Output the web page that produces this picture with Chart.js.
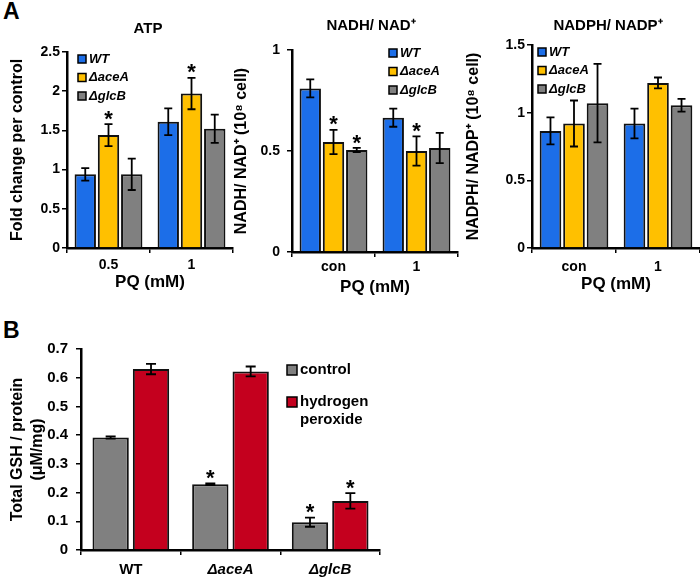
<!DOCTYPE html>
<html lang="en">
<head>
  <meta charset="UTF-8" />
  <title>ATP, NADH/NAD+, NADPH/NADP+ and total GSH</title>
  <script src="https://cdn.jsdelivr.net/npm/chart.js"></script>
  <style>
    body { margin: 0; background: #fff; }
    #fig { position: relative; width: 700px; height: 580px; overflow: hidden; font-family: 'Liberation Sans', Arial, sans-serif; }
    #fig canvas { position: absolute; }
    .panel { position: absolute; font-weight: bold; font-size: 23px; line-height: 1; }
  </style>
</head>
<body>
<div id="fig">
  <div class="panel" style="left:3px; top:0px;">A</div>
  <div class="panel" style="left:3px; top:319px;">B</div>
  <canvas id="atp" width="240" height="300" style="left:0; top:0;"></canvas>
  <canvas id="nadh" width="240" height="300" style="left:228px; top:0;"></canvas>
  <canvas id="nadph" width="238" height="300" style="left:462px; top:0;"></canvas>
  <canvas id="gsh" width="420" height="260" style="left:0; top:320px;"></canvas>
</div>

<script>
  // ---- data ----
  const seriesA = ['WT', 'ΔaceA', 'ΔglcB'];

  const atpLabels = ['0.5', '1'];
  const atpTicks = ['0', '0.5', '1', '1.5', '2', '2.5'];
  const atpWT = [0.94, 1.61],    atpWTErr = [0.08, 0.17];
  const atpAceA = [1.44, 1.97],  atpAceAErr = [0.14, 0.20];
  const atpGlcB = [0.94, 1.52],  atpGlcBErr = [0.20, 0.18];
  const atpAceAStar = [true, true];

  const nadhLabels = ['con', '1'];
  const nadhTicks = ['0', '0.5', '1'];
  const nadhWT = [0.81, 0.665],   nadhWTErr = [0.045, 0.045];
  const nadhAceA = [0.545, 0.50], nadhAceAErr = [0.06, 0.072];
  const nadhGlcB = [0.505, 0.515], nadhGlcBErr = [0.01, 0.075];
  const nadhAceAStar = [true, true];
  const nadhGlcBStar = [true, false];

  const nadphLabels = ['con', '1'];
  const nadphTicks = ['0', '0.5', '1', '1.5'];
  const nadphWT = [0.865, 0.92],  nadphWTErr = [0.10, 0.11];
  const nadphAceA = [0.92, 1.22], nadphAceAErr = [0.17, 0.04];
  const nadphGlcB = [1.07, 1.055], nadphGlcBErr = [0.29, 0.047];

  const gshLabels = ['WT', 'ΔaceA', 'ΔglcB'];
  const gshTicks = ['0', '0.1', '0.2', '0.3', '0.4', '0.5', '0.6', '0.7'];
  const gshControl = [0.392, 0.229, 0.097], gshControlErr = [0.004, 0.003, 0.016];
  const gshH2O2 = [0.63, 0.622, 0.171],     gshH2O2Err = [0.018, 0.017, 0.027];
  const gshControlStar = [false, true, true];
  const gshH2O2Star = [false, false, true];

  const FONT = "'Liberation Sans', Arial, sans-serif";
  const BLUE = '#1c6ee8', GOLD = '#ffc000', GREY = '#808080', RED = '#c4001e';

  Chart.defaults.font.family = FONT;
  Chart.defaults.color = '#000';

  // error bars, asterisks, panel title and in-plot legend
  const extras = {
    id: 'extras',
    afterDatasetsDraw(chart, args, o) {
      const ctx = chart.ctx, y = chart.scales.y, area = chart.chartArea;
      ctx.save();
      ctx.strokeStyle = '#000';
      ctx.fillStyle = '#000';
      ctx.lineWidth = 1.8;
      chart.data.datasets.forEach((ds, i) => {
        chart.getDatasetMeta(i).data.forEach((bar, j) => {
          const v = ds.data[j], e = ds.errors[j];
          const top = y.getPixelForValue(v + e), bot = y.getPixelForValue(v - e);
          ctx.beginPath();
          ctx.moveTo(bar.x, top); ctx.lineTo(bar.x, bot);
          ctx.moveTo(bar.x - o.cap, top); ctx.lineTo(bar.x + o.cap, top);
          ctx.moveTo(bar.x - o.cap, bot); ctx.lineTo(bar.x + o.cap, bot);
          ctx.stroke();
          if (ds.stars && ds.stars[j]) {
            ctx.font = 'bold 22px ' + FONT;
            ctx.textAlign = 'center';
            ctx.textBaseline = 'alphabetic';
            ctx.fillText('*', bar.x, top - 11 + 0.57 * 22);
          }
        });
      });

      if (o.title) {
        ctx.font = 'bold 15px ' + FONT;
        ctx.textAlign = 'center';
        ctx.textBaseline = 'middle';
        ctx.fillText(o.title, o.titleX, o.titleY);
      }

      const lg = o.legend;
      ctx.textAlign = 'left';
      ctx.textBaseline = 'middle';
      ctx.font = lg.font;
      chart.data.datasets.forEach((ds, k) => {
        const bx = area.left + lg.x, by = area.top + lg.y + k * lg.gap;
        ctx.fillStyle = ds.backgroundColor;
        ctx.fillRect(bx, by - lg.size / 2, lg.size, lg.size);
        ctx.lineWidth = 1.5;
        ctx.strokeRect(bx, by - lg.size / 2, lg.size, lg.size);
        ctx.fillStyle = '#000';
        const lines = Array.isArray(ds.label) ? ds.label : [ds.label];
        lines.forEach((t, m) => ctx.fillText(t, bx + lg.size + 3, by + m * lg.lineGap));
      });
      ctx.restore();
    }
  };

  function makeChart(id, c) {
    const datasets = c.series.map(s => ({
      label: s.label, data: s.data, errors: s.err, stars: s.stars,
      backgroundColor: s.color, borderColor: '#111', borderWidth: 2,
      categoryPercentage: c.cat, barPercentage: c.bar
    }));
    return new Chart(document.getElementById(id), {
      type: 'bar',
      data: { labels: c.labels, datasets: datasets },
      options: {
        responsive: false,
        animation: false,
        devicePixelRatio: 1,
        layout: { padding: { top: c.top, right: c.right, left: 0, bottom: 0 } },
        plugins: {
          legend: { display: false },
          tooltip: { enabled: false },
          extras: c.extras
        },
        scales: {
          x: {
            grid: { display: true, drawOnChartArea: false, tickLength: 5, color: '#000', lineWidth: 1.5 },
            border: { color: '#000', width: 2.5 },
            ticks: {
              color: '#000', padding: c.xPad,
              font: ctx => ({ family: FONT, size: c.xFont, weight: 'bold',
                style: String(c.labels[ctx.index]).includes('Δ') ? 'italic' : 'normal' })
            },
            title: {
              display: !!c.xTitle, text: c.xTitle, color: '#000',
              font: { family: FONT, size: 17, weight: 'bold' },
              padding: { top: 0, bottom: c.xTitlePad }
            },
            afterFit: sc => { sc.height = c.xH; }
          },
          y: {
            min: 0, max: c.max,
            grid: { display: true, drawOnChartArea: false, tickLength: 5, color: '#000', lineWidth: 1.5 },
            border: { color: '#000', width: 2.5 },
            ticks: {
              stepSize: c.step, color: '#000', padding: c.yPad,
              font: { family: FONT, size: c.yFont, weight: 'bold' },
              callback: (v, i) => c.ticks[i]
            },
            title: {
              display: true, text: c.yTitle, color: '#000',
              font: { family: FONT, size: 16, weight: 'bold', lineHeight: c.yLH },
              padding: { top: c.yTitlePad, bottom: 0 }
            },
            afterFit: sc => { sc.width = c.yW; }
          }
        }
      },
      plugins: [extras]
    });
  }

  const legendA = 'italic bold 13px ' + FONT;

  makeChart('atp', {
    labels: atpLabels, ticks: atpTicks, max: 2.5, step: 0.5,
    series: [
      { label: seriesA[0], data: atpWT, err: atpWTErr, color: BLUE },
      { label: seriesA[1], data: atpAceA, err: atpAceAErr, stars: atpAceAStar, color: GOLD },
      { label: seriesA[2], data: atpGlcB, err: atpGlcBErr, color: GREY }
    ],
    cat: 0.84, bar: 0.92, top: 52, right: 7, xH: 52, yW: 67,
    xPad: 4, xFont: 14, xTitle: 'PQ (mM)', xTitlePad: 7,
    yPad: 2, yFont: 14, yTitle: 'Fold change per control', yTitlePad: 8, yLH: 1.2,
    extras: { cap: 4, title: 'ATP', titleX: 148, titleY: 29,
      legend: { x: 11, y: 7, gap: 18.5, lineGap: 0, size: 8, font: legendA } }
  });

  makeChart('nadh', {
    labels: nadhLabels, ticks: nadhTicks, max: 1, step: 0.5,
    series: [
      { label: seriesA[0], data: nadhWT, err: nadhWTErr, color: BLUE },
      { label: seriesA[1], data: nadhAceA, err: nadhAceAErr, stars: nadhAceAStar, color: GOLD },
      { label: seriesA[2], data: nadhGlcB, err: nadhGlcBErr, stars: nadhGlcBStar, color: GREY }
    ],
    cat: 0.84, bar: 0.92, top: 50, right: 10, xH: 48, yW: 64,
    xPad: 2, xFont: 14, xTitle: 'PQ (mM)', xTitlePad: 2,
    yPad: 7, yFont: 14, yTitle: 'NADH/ NAD⁺ (10⁸ cell)', yTitlePad: 4, yLH: 1.2,
    extras: { cap: 4, title: 'NADH/ NAD⁺', titleX: 143, titleY: 26,
      legend: { x: 97, y: 3, gap: 18.5, lineGap: 0, size: 8, font: legendA } }
  });

  makeChart('nadph', {
    labels: nadphLabels, ticks: nadphTicks, max: 1.5, step: 0.5,
    series: [
      { label: seriesA[0], data: nadphWT, err: nadphWTErr, color: BLUE },
      { label: seriesA[1], data: nadphAceA, err: nadphAceAErr, color: GOLD },
      { label: seriesA[2], data: nadphGlcB, err: nadphGlcBErr, color: GREY }
    ],
    cat: 0.84, bar: 0.92, top: 45, right: 0, xH: 52, yW: 70,
    xPad: 6, xFont: 14, xTitle: 'PQ (mM)', xTitlePad: 5,
    yPad: 2, yFont: 14, yTitle: 'NADPH/ NADP⁺ (10⁸ cell)', yTitlePad: 2, yLH: 1.2,
    extras: { cap: 4, title: 'NADPH/ NADP⁺', titleX: 146, titleY: 26,
      legend: { x: 6, y: 7, gap: 18.5, lineGap: 0, size: 8, font: legendA } }
  });

  makeChart('gsh', {
    labels: gshLabels, ticks: gshTicks, max: 0.7, step: 0.1,
    series: [
      { label: 'control', data: gshControl, err: gshControlErr, stars: gshControlStar, color: GREY },
      { label: ['hydrogen', 'peroxide'], data: gshH2O2, err: gshH2O2Err, stars: gshH2O2Star, color: RED }
    ],
    cat: 0.81, bar: 0.9, top: 29, right: 40, xH: 30, yW: 81,
    xPad: 6, xFont: 15, xTitle: '',  xTitlePad: 0,
    yPad: 8, yFont: 15, yTitle: ['Total GSH / protein', '(μM/mg)'], yTitlePad: 8, yLH: 1.25,
    extras: { cap: 5,
      legend: { x: 206, y: 21, gap: 32, lineGap: 18, size: 10, font: 'bold 15px ' + FONT } }
  });
</script>
</body>
</html>
